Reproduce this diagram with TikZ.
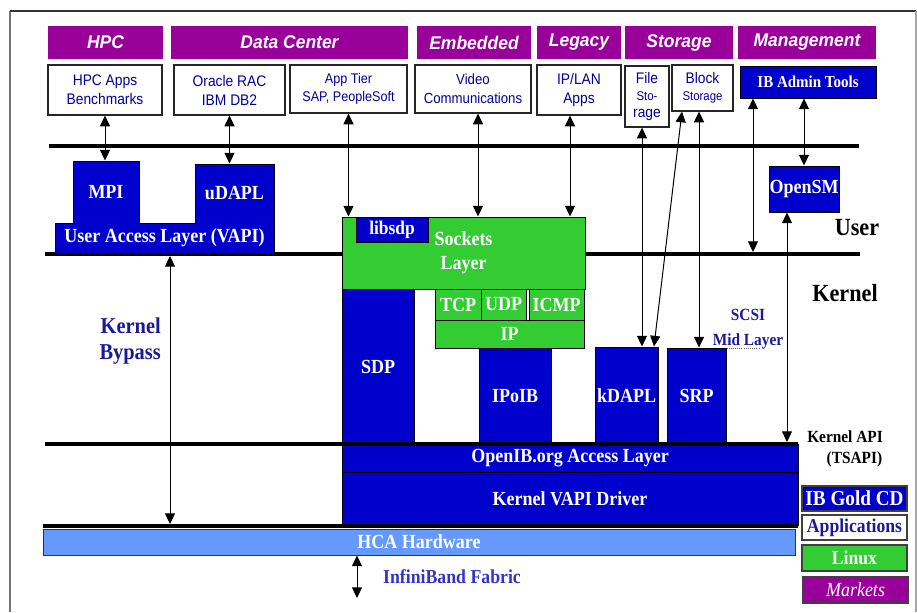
\documentclass[tikz,border=0pt]{standalone}
\usepackage{fontspec}
\usetikzlibrary{arrows.meta}
\newfontfamily\hfont{Liberation Sans}[FakeStretch=0.95]
\newfontfamily\afont{Liberation Sans}[FakeStretch=0.9]
\newfontfamily\tfont{Liberation Serif}[FakeStretch=0.9]
\definecolor{mktc}{HTML}{990099}
\definecolor{ibblue}{HTML}{0000CC}
\definecolor{lingreen}{HTML}{33CC33}
\definecolor{hcablue}{HTML}{6699FF}
\definecolor{apptext}{HTML}{000099}
\definecolor{bypassc}{HTML}{1A1A99}
\definecolor{fabricc}{HTML}{3333CC}
\newcommand\mybox[7]{\node[#6,minimum width={(#4-#2)*0.75pt},minimum height={(#5-#3)*0.75pt},inner sep=0pt] (#1) at ({(#2+#4)/2},{(#3+#5)/2}) {#7};}
\begin{document}
\begin{tikzpicture}[x=0.75pt,y=-0.75pt,
  mkt/.style={fill=mktc,text=white,font=\hfont\bfseries\itshape\fontsize{13.8}{15}\selectfont},
  app/.style={draw=black!85,line width=0.9pt,fill=white,text=apptext,align=center,font=\afont\fontsize{11.5}{14.25}\selectfont},
  ib/.style={draw=black,line width=0.75pt,fill=ibblue,text=white,align=center,font=\tfont\bfseries\fontsize{15}{18}\selectfont},
  lx/.style={draw=black,line width=0.75pt,fill=lingreen,text=white,align=center,font=\tfont\bfseries\fontsize{15}{18}\selectfont},
  hcab/.style={draw=black!80,line width=0.75pt,fill=hcablue,text=white,font=\tfont\bfseries\fontsize{15}{18}\selectfont},
  leg/.style={draw=black!75,line width=1.2pt},
  lbl/.style={align=center,inner sep=0pt,font=\tfont\bfseries},
  layerline/.style={line width=3pt,black},
  arr/.style={{Triangle[length=8pt,width=7.5pt]}-{Triangle[length=8pt,width=7.5pt]},line width=0.75pt}
]
\useasboundingbox (0,0) rectangle (917,612);
% frame
\coordinate (f1) at (10,612); \coordinate (f2) at (10,11);
\coordinate (f3) at (916,11); \coordinate (f4) at (916,612);
\draw[black!55,line width=0.9pt] (f1) -- (f2);
\draw[black!80,line width=0.9pt] (f2) -- (f3);
\draw[black!35,line width=0.9pt] (f3) -- (f4);
% layer lines behind boxes
\coordinate (t1) at (49,146); \coordinate (t2) at (859,146);
\coordinate (u1) at (45,254); \coordinate (u2) at (860,254);
\draw[layerline] (t1) -- (t2);
\draw[layerline] (u1) -- (u2);
% markets
\mybox{mhpc}{48}{26}{163}{59}{mkt}{HPC}
\mybox{mdc}{171}{26}{408}{59}{mkt}{Data Center}
\mybox{memb}{417}{26}{531}{59}{mkt}{Embedded}
\mybox{mleg}{537}{26}{621}{59}{mkt}{Legacy}
\mybox{msto}{625}{26}{733}{59}{mkt}{Storage}
\mybox{mmgmt}{738}{26}{876}{59}{mkt}{Management}
% applications
\mybox{hpcapps}{48}{65}{162}{115}{app}{HPC Apps\\Benchmarks}
\mybox{oracle}{174}{65}{285}{115}{app}{Oracle RAC\\IBM DB2}
\mybox{apptier}{290}{65}{407}{113}{app,font=\afont\fontsize{10.5}{14}\selectfont}{App Tier\\SAP, PeopleSoft}
\mybox{video}{415}{65}{531}{113}{app,font=\afont\fontsize{11}{14}\selectfont}{Video\\Communications}
\mybox{iplan}{537}{65}{621}{115}{app}{IP/LAN\\Apps}
\mybox{filest}{625}{66}{669}{127}{app,font=\afont\fontsize{11.5}{13}\selectfont}{File\\\fontsize{9.5}{12}\selectfont Sto-\\rage}
\mybox{blockst}{672}{65}{733}{111}{app,font=\afont\fontsize{11.5}{13}\selectfont}{Block\\\fontsize{9.5}{13}\selectfont Storage}
\mybox{ibadmin}{740}{66}{876}{98}{ib,font=\tfont\bfseries\fontsize{12.5}{15}\selectfont}{IB Admin Tools}
% user space
\mybox{mpi}{73}{161}{139}{223}{ib}{MPI}
\mybox{udapl}{195}{164}{274}{223}{ib}{uDAPL}
\mybox{ual}{55}{223}{274}{253}{ib}{User Access Layer (VAPI)}
\mybox{opensm}{769}{166}{839}{212}{ib}{OpenSM}
\mybox{sockets}{342}{217}{585}{289}{lx}{Sockets\\Layer}
\mybox{libsdp}{356}{217}{428}{242}{ib,font=\tfont\bfseries\fontsize{14.5}{17}\selectfont}{libsdp}
% kernel
\mybox{sdp}{342}{289}{414}{444}{ib}{SDP}
\mybox{tcp}{435}{289}{481}{320}{lx}{TCP}
\mybox{udp}{481}{289}{526}{320}{lx}{UDP}
\mybox{icmp}{529}{289}{584}{320}{lx}{ICMP}
\mybox{ip}{435}{320}{584}{348}{lx}{IP}
\mybox{ipoib}{479}{348}{551}{444}{ib}{IPoIB}
\mybox{kdapl}{595}{347}{658}{444}{ib}{kDAPL}
\mybox{srp}{667}{348}{726}{444}{ib}{SRP}
\mybox{openib}{342}{444}{798}{472}{ib}{OpenIB.org Access Layer}
\mybox{kvapi}{342}{472}{798}{525}{ib}{Kernel VAPI Driver}
\mybox{hca}{43}{529}{795}{555}{hcab}{HCA Hardware}
% lines over boxes
\coordinate (k1) at (45,444); \coordinate (k2) at (798,444);
\coordinate (h1) at (43,526); \coordinate (h2) at (798,526);
\draw[layerline] (k1) -- (k2);
\draw[layerline] (h1) -- (h2);
% legend
\mybox{lgold}{802}{486}{907}{511}{ib,leg,font=\tfont\bfseries\fontsize{16}{18}\selectfont}{IB Gold CD}
\mybox{lapps}{802}{515}{907}{540}{leg,fill=white,text=bypassc,font=\tfont\bfseries\fontsize{14.7}{17}\selectfont}{Applications}
\mybox{llinux}{802}{545}{907}{571}{lx,leg,font=\tfont\bfseries\fontsize{14.7}{17}\selectfont}{Linux}
\mybox{lmkt}{803}{577}{908}{603}{leg,fill=mktc,text=white,font=\tfont\itshape\fontsize{15}{17}\selectfont}{Markets}
% labels
\node[lbl,font=\tfont\bfseries\fontsize{18.5}{20}\selectfont] (user) at (857,228) {User};
\node[lbl,font=\tfont\bfseries\fontsize{18.5}{20}\selectfont] (kernel) at (845,293) {Kernel};
\node[lbl,align=right,anchor=east,text=bypassc,font=\tfont\bfseries\fontsize{17}{19.5}\selectfont] (bypass) at (161,341) {Kernel\\Bypass};
\node[lbl,text=bypassc,font=\tfont\bfseries\fontsize{12.8}{18.75}\selectfont] (scsi) at (748,329) {SCSI\\Mid Layer};
\node[lbl,font=\tfont\bfseries\fontsize{12.8}{16}\selectfont] (kapi) at (845,449) {Kernel API\\\hspace*{1.1em}(TSAPI)};
\node[lbl,text=fabricc,font=\tfont\bfseries\fontsize{14.8}{17}\selectfont] (fabric) at (452,577) {InfiniBand Fabric};
\draw[black!60,line width=0.6pt,densely dotted] ([yshift=-0.75pt]srp.north east) -- ++(33,0);
% arrow anchor coordinates
\coordinate (va) at ([xshift=3.75pt]video.south);
\coordinate (ipa) at ([xshift=-6.75pt]iplan.south);
\coordinate (fa) at ([xshift=-3.75pt]filest.south);
\coordinate (ba1) at ([xshift=-15.4pt]blockst.south);
\coordinate (ka1) at ([xshift=20.6pt]kdapl.north);
\coordinate (ba2) at ([xshift=-2.6pt]blockst.south);
\coordinate (osa) at ([xshift=-12.75pt]opensm.south);
\coordinate (ibk) at (753,252);
\coordinate (kapie) at (787,442);
\coordinate (byt) at (170,256);
\coordinate (byb) at (170,524);
\coordinate (fab) at (357,598);
% arrows
\draw[arr] (hpcapps.south) -- (mpi.north -| hpcapps.south);
\draw[arr] (oracle.south) -- (udapl.north -| oracle.south);
\draw[arr] (apptier.south) -- (sockets.north -| apptier.south);
\draw[arr] (va) -- (sockets.north -| va);
\draw[arr] (ipa) -- (sockets.north -| ipa);
\draw[arr] (fa) -- (kdapl.north -| fa);
\draw[arr] (ba1) -- (ka1);
\draw[arr] (ba2) -- (srp.north -| ba2);
\draw[arr] (ibadmin.south -| ibk) -- (ibk);
\draw[arr] (ibadmin.south -| opensm.north) -- (opensm.north);
\draw[arr] (osa) -- (kapie);
\draw[arr] (byt) -- (byb);
\draw[arr] (hca.south -| fab) -- (fab);
\end{tikzpicture}
\end{document}
